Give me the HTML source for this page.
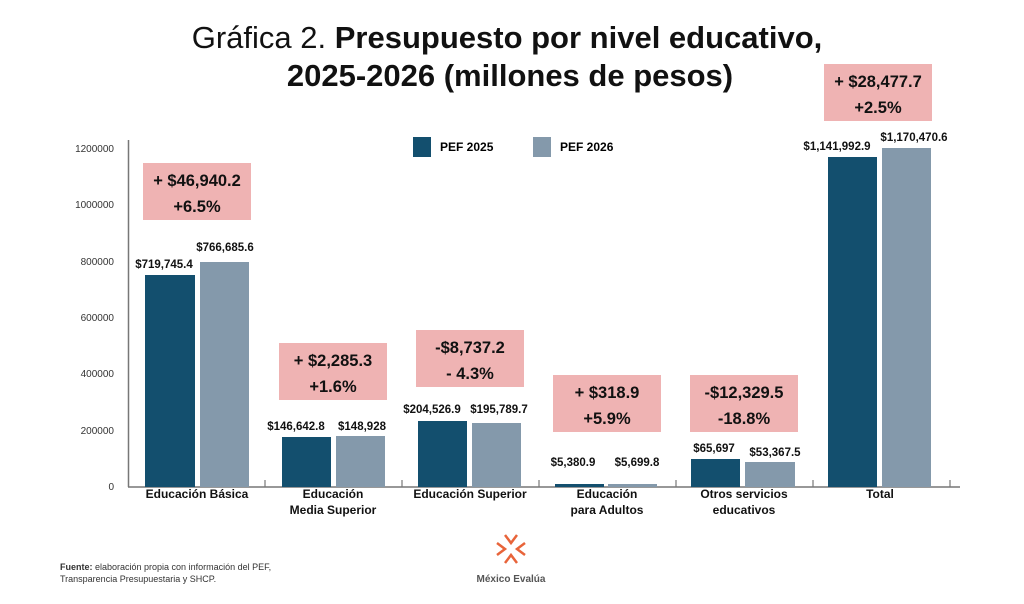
<!DOCTYPE html>
<html><head><meta charset="utf-8"><style>
body{margin:0;background:#fff;width:1024px;height:599px;overflow:hidden;font-family:"Liberation Sans",sans-serif}
</style></head><body>
<svg width="1024" height="599" xmlns="http://www.w3.org/2000/svg" font-family="Liberation Sans, sans-serif">
<text x="507" y="48" text-anchor="middle" font-size="31" fill="#111"><tspan>Gráfica 2. </tspan><tspan font-weight="bold">Presupuesto por nivel educativo,</tspan></text>
<text x="510" y="86" text-anchor="middle" font-size="31" font-weight="bold" fill="#111">2025-2026 (millones de pesos)</text>
<g font-size="10" fill="#333" text-anchor="end">
<text x="114" y="152">1200000</text><text x="114" y="208">1000000</text><text x="114" y="265">800000</text>
<text x="114" y="321">600000</text><text x="114" y="377">400000</text><text x="114" y="434">200000</text><text x="114" y="490">0</text>
</g>
<line x1="128.5" y1="140" x2="128.5" y2="487" stroke="#777" stroke-width="1.5"/>
<line x1="128" y1="487" x2="960" y2="487" stroke="#777" stroke-width="1.5"/>
<g stroke="#777" stroke-width="1.2"><line x1="265" y1="480" x2="265" y2="487"/><line x1="402" y1="480" x2="402" y2="487"/><line x1="539" y1="480" x2="539" y2="487"/><line x1="676" y1="480" x2="676" y2="487"/><line x1="813" y1="480" x2="813" y2="487"/><line x1="950" y1="480" x2="950" y2="487"/></g>
<rect x="413" y="137" width="18" height="20" fill="#134f6e"/><text x="440" y="151" font-size="12" font-weight="bold">PEF 2025</text>
<rect x="533" y="137" width="18" height="20" fill="#8499ab"/><text x="560" y="151" font-size="12" font-weight="bold">PEF 2026</text>
<g fill="#134f6e">
<rect x="145" y="275" width="50" height="212"/><rect x="282" y="437" width="49" height="50"/><rect x="418" y="421" width="49" height="66"/>
<rect x="555" y="484" width="49" height="3"/><rect x="691" y="459" width="49" height="28"/><rect x="828" y="157" width="49" height="330"/></g>
<g fill="#8499ab">
<rect x="200" y="262" width="49" height="225"/><rect x="336" y="436" width="49" height="51"/><rect x="472" y="423" width="49" height="64"/>
<rect x="608" y="484" width="49" height="3"/><rect x="745" y="462" width="50" height="25"/><rect x="882" y="148" width="49" height="339"/></g>
<g font-size="11.5" font-weight="bold" fill="#111" text-anchor="middle">
<text x="164" y="268">$719,745.4</text><text x="225" y="251">$766,685.6</text>
<text x="296" y="430">$146,642.8</text><text x="362" y="430">$148,928</text>
<text x="432" y="413">$204,526.9</text><text x="499" y="413">$195,789.7</text>
<text x="573" y="466">$5,380.9</text><text x="637" y="466">$5,699.8</text>
<text x="714" y="452">$65,697</text><text x="775" y="456">$53,367.5</text>
<text x="837" y="150">$1,141,992.9</text><text x="914" y="141">$1,170,470.6</text>
</g>
<g fill="#efb3b3"><rect x="143" y="163" width="108" height="57"/><rect x="279" y="343" width="108" height="57"/><rect x="416" y="330" width="108" height="57"/>
<rect x="553" y="375" width="108" height="57"/><rect x="690" y="375" width="108" height="57"/><rect x="824" y="64" width="108" height="57"/></g>
<g font-size="16.5" font-weight="bold" fill="#111" text-anchor="middle">
<text x="197" y="186">+ $46,940.2</text><text x="197" y="212">+6.5%</text>
<text x="333" y="366">+ $2,285.3</text><text x="333" y="392">+1.6%</text>
<text x="470" y="353">-$8,737.2</text><text x="470" y="379">- 4.3%</text>
<text x="607" y="398">+ $318.9</text><text x="607" y="424">+5.9%</text>
<text x="744" y="398">-$12,329.5</text><text x="744" y="424">-18.8%</text>
<text x="878" y="87">+ $28,477.7</text><text x="878" y="113">+2.5%</text>
</g>
<g font-size="12" font-weight="bold" fill="#111" text-anchor="middle">
<text x="197" y="498">Educación Básica</text>
<text x="333" y="498">Educación</text><text x="333" y="514">Media Superior</text>
<text x="470" y="498">Educación Superior</text>
<text x="607" y="498">Educación</text><text x="607" y="514">para Adultos</text>
<text x="744" y="498">Otros servicios</text><text x="744" y="514">educativos</text>
<text x="880" y="498">Total</text>
</g>
<text x="60" y="570" font-size="9" fill="#333"><tspan font-weight="bold">Fuente:</tspan> elaboración propia con información del PEF,</text>
<text x="60" y="582" font-size="9" fill="#333">Transparencia Presupuestaria y SHCP.</text>
<g stroke="#e8643a" stroke-width="2.5" fill="none"><path d="M505 535 l6 8 l6 -8 M505 563 l6 -8 l6 8 M497 543 l8 6 l-8 6 M525 543 l-8 6 l8 6"/></g>
<text x="511" y="582" font-size="10" font-weight="bold" fill="#555" text-anchor="middle">México Evalúa</text>
</svg>
</body></html>
